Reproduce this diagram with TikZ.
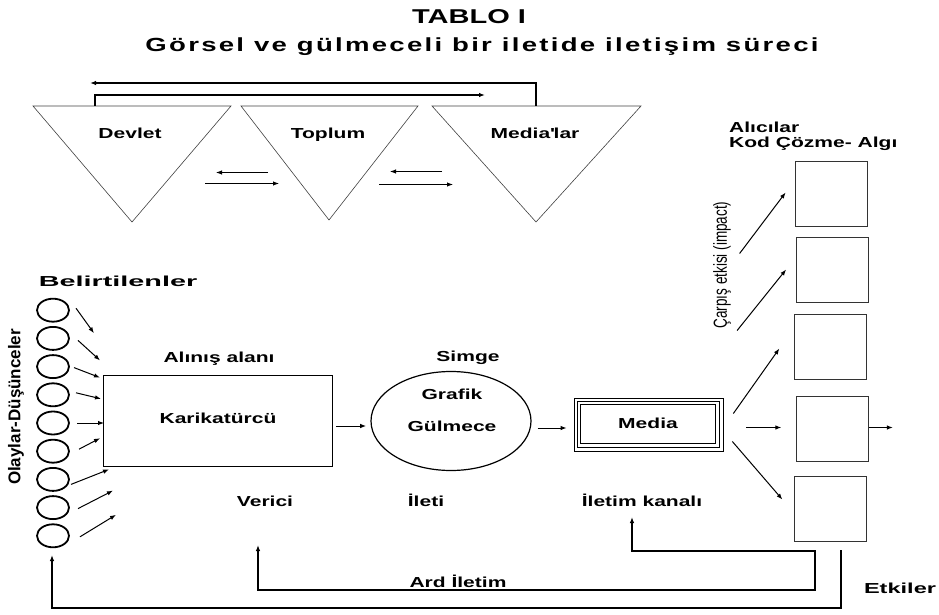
\documentclass[tikz,border=0pt]{standalone}
\usepackage{fontspec}
\setmainfont{Liberation Sans}[FakeStretch=1.45]
\newfontfamily\narrowsans{Liberation Sans}
\usetikzlibrary{arrows.meta,shapes.geometric}
\tikzset{
  lbl/.style={font=\fontsize{14.5}{16}\selectfont\bfseries, inner sep=0pt, text height=10pt, text depth=3pt, yshift=-2.5pt},
  olay/.style={draw, ellipse, line width=1.8pt, minimum width=32pt, minimum height=23pt, inner sep=0pt},
  alici/.style={draw=black!80, line width=0.8pt, minimum width=72pt, minimum height=65pt, inner sep=0pt},
  ucgen/.style={draw=black!75, line width=0.6pt},
  geri/.style={line width=1.6pt},
  ok/.style={->, line width=1pt},
}

\begin{document}
\begin{tikzpicture}[x=1pt, y=-1pt, >={Latex[length=6pt,width=4.5pt]}]
        \useasboundingbox (0,0) rectangle (939,615);
        \node[font=\fontsize{20}{22}\selectfont\bfseries] (tablo) at (469,17) {TABLO I};
        \node[font=\fontsize{19}{21}\selectfont\bfseries\addfontfeature{LetterSpace=12}] (baslik) at (482,47) {Görsel ve gülmeceli bir iletide iletişim süreci};

        \draw[ucgen] (33,106) -- (231,106) -- (132,222) -- cycle;
        \draw[ucgen] (241,106) -- (418,106) -- (329,220) -- cycle;
        \draw[ucgen] (432,106) -- (641,106) -- (536,222) -- cycle;
        \node[lbl] (devlet) at (130,133) {Devlet};
        \node[lbl] (toplum) at (328,133) {Toplum};
        \node[lbl] (medialar) at (535,133) {Media\textquotesingle lar};
        \coordinate (d1) at (95,106);
        \coordinate (m1) at (536,106);
        \draw[geri,->] (m1) -- (536,83) -- (90,83);
        \draw[geri,->] (d1) -- (95,95) -- (485,95);
        \draw[ok] (devlet) ++(138,37) -- ++(-52,0);
        \draw[ok] (devlet) ++(75,48) -- ++(74,0);
        \draw[ok] (toplum) ++(114,36) -- ++(-52,0);
        \draw[ok] (toplum) ++(51,49) -- ++(74,0);

        \node[lbl, xscale=1.37] (belirt) at (118,280) {Belirtilenler};
        \node[font=\narrowsans\fontsize{17}{19}\selectfont\bfseries, rotate=90] (olaylar) at (16,407) {Olaylar-Düşünceler};
        \foreach \i in {1,...,9}
            \node[olay] (o\i) at (53,{282+28.2*\i}) {};
        \foreach \i/\a/\b/\c/\d in {1/23/-2/18/25, 2/25/2/22/20, 3/21/1/26/10, 4/23/-2/25/6, 5/24/0/27/0, 6/26/-2/21/-11, 7/18/5/38/-15, 8/25/1/35/-18, 9/27/1/36/-22}
            \draw[ok] (o\i) ++(\a,\b) -- ++(\c,\d);

        \node[draw, line width=1.4pt, minimum width=229pt, minimum height=91pt] (kar) at (218,421) {};
        \node[lbl] (karl) at (218,417) {Karikatürcü};
        \node[lbl] (alinis) at (219,356) {Alınış alanı};
        \node[lbl] (verici) at (265,500) {Verici};
        \draw[ok] (kar.east) ++(3,5) -- ++(30,0);

        \node[draw, ellipse, line width=1.2pt, minimum width=160pt, minimum height=99pt] (gul) at (451,421) {};
        \node[lbl] (simge) at (468,355) {Simge};
        \node[lbl] (grafik) at (452,393) {Grafik};
        \node[lbl] (gulmece) at (452,425) {Gülmece};
        \node[lbl] (ileti) at (426,500) {İleti};
        \draw[ok] (gul.east) ++(6,7) -- ++(29,0);

        \node[draw, line width=0.7pt, minimum width=149pt, minimum height=53pt] (med) at (648.5,424.5) {};
        \draw[line width=1.3pt] (med.north west) ++(3.5,3.5) rectangle ++(142,46);
        \draw[line width=0.6pt] (med.north west) ++(7,7) rectangle ++(135,39);
        \node[lbl] (medl) at (648,422) {Media};
        \node[lbl] (kanall) at (642,500) {İletim kanalı};

        \node[lbl, anchor=west] (alici) at (729,126) {Alıcılar};
        \node[lbl, anchor=west] (kod) at (729,141) {Kod Çözme- Algı};
        \node[font=\narrowsans\fontsize{13.5}{15}\selectfont, rotate=90, yscale=1.4] (carpis) at (722,265) {Çarpış etkisi (impact)};
        \foreach \i/\x/\y in {1/831/193.5, 2/832.5/269.5, 3/830/347, 4/832.5/428.5, 5/830/509}
            \node[alici] (a\i) at (\x,\y) {};
        \draw[ok] (a1.west) ++(-55,60) -- ++(46,-61);
        \draw[ok] (a2.west) ++(-59,61) -- ++(49,-61);
        \draw[ok] (med.east) ++(10,-11) -- ++(46,-65);
        \draw[ok] (med.east) ++(23,3) -- ++(35,0);
        \draw[ok] (med.east) ++(9,17) -- ++(50,58);
        \draw[ok] (a4.east) ++(0,-1) -- ++(24,0);

        \node[lbl] (ard) at (458,581) {Ard İletim};
        \node[lbl, xscale=1.12] (etkiler) at (900,587) {Etkiler};
        \coordinate (ver) at (258,545);
        \coordinate (kanal) at (632,517);
        \draw[geri,<->] (kanal) -- (632,551) -- (815,551) -- (815,590) -- (258,590) -- (ver);
        \coordinate (etk) at (841,550);
        \coordinate (fb) at (52,555);
        \draw[geri,->] (etk) -- (841,608) -- (52,608) -- (fb);
    \end{tikzpicture}
\end{document}
